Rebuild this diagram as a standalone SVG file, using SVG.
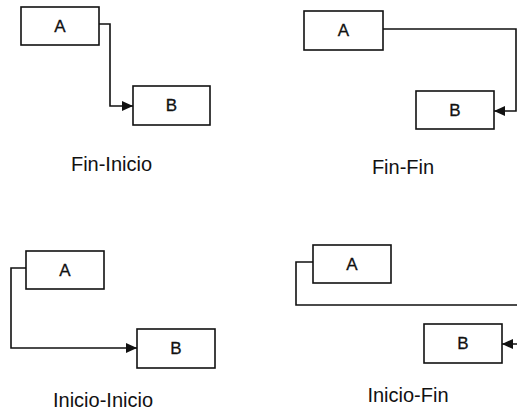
<svg xmlns="http://www.w3.org/2000/svg" width="517" height="414" viewBox="0 0 517 414">
  <style>
    .box { fill: #ffffff; stroke: #111111; stroke-width: 1.6; }
    .node-label { font-family: "Liberation Sans", Arial, sans-serif; font-size: 17px; fill: #111111; text-anchor: middle; stroke: #111111; stroke-width: 0.3; }
    .caption { font-family: "Liberation Sans", Arial, sans-serif; font-size: 20px; fill: #111111; text-anchor: middle; }
    .link { fill: none; stroke: #111111; stroke-width: 1.6; }
  </style>
  <defs>
    <marker id="arrow" markerUnits="userSpaceOnUse" markerWidth="12" markerHeight="10" refX="11" refY="5" orient="auto">
      <path d="M0,0 L11,5 L0,10 Z" fill="#111111"/>
    </marker>
  </defs>
  <rect width="517" height="414" fill="#ffffff"/>

  <!-- connectors -->
  <g id="connectors">
    <path class="link" d="M99,24 H110 V106 H133" marker-end="url(#arrow)"/>
    <path class="link" d="M383,29 H516 V111 H494" marker-end="url(#arrow)"/>
    <path class="link" d="M26,268 H11 V348 H137" marker-end="url(#arrow)"/>
    <path class="link" d="M313,262 H296 V305 H519 V344 H502" marker-end="url(#arrow)"/>
  </g>

  <!-- Fin-Inicio -->
  <g id="fi-a">
    <rect class="box" x="21" y="7" width="78" height="38"/>
    <text class="node-label" x="60" y="32">A</text>
  </g>
  <g id="fi-b">
    <rect class="box" x="133" y="86" width="77" height="39"/>
    <text class="node-label" x="171.5" y="111">B</text>
  </g>
  <text class="caption" x="111.5" y="171">Fin-Inicio</text>

  <!-- Fin-Fin -->
  <g id="ff-a">
    <rect class="box" x="304" y="11" width="79" height="39"/>
    <text class="node-label" x="343.5" y="36">A</text>
  </g>
  <g id="ff-b">
    <rect class="box" x="416" y="91" width="78" height="38"/>
    <text class="node-label" x="455" y="116">B</text>
  </g>
  <text class="caption" x="403" y="174">Fin-Fin</text>

  <!-- Inicio-Inicio -->
  <g id="ii-a">
    <rect class="box" x="26" y="251" width="78" height="38"/>
    <text class="node-label" x="65" y="276">A</text>
  </g>
  <g id="ii-b">
    <rect class="box" x="137" y="329" width="78" height="39"/>
    <text class="node-label" x="176" y="354">B</text>
  </g>
  <text class="caption" x="103" y="407">Inicio-Inicio</text>

  <!-- Inicio-Fin -->
  <g id="if-a">
    <rect class="box" x="313" y="245" width="78" height="38"/>
    <text class="node-label" x="352" y="270">A</text>
  </g>
  <g id="if-b">
    <rect class="box" x="424" y="324" width="78" height="39"/>
    <text class="node-label" x="463" y="349">B</text>
  </g>
  <text class="caption" x="408" y="402">Inicio-Fin</text>
</svg>
